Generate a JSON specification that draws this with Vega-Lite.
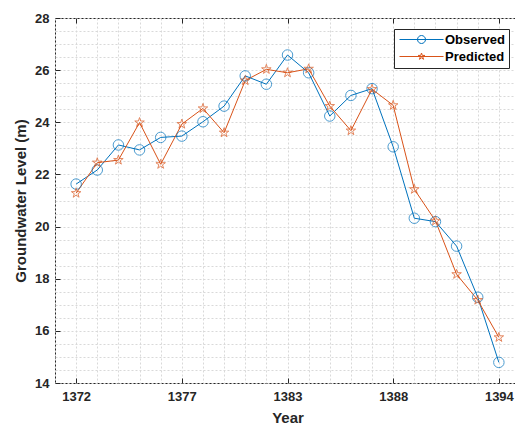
{
  "$schema": "https://vega.github.io/schema/vega-lite/v6.json",
  "width": 465,
  "height": 365,
  "autosize": {"type": "none"},
  "padding": {"left": 55, "top": 18, "right": 0, "bottom": 42},
  "background": "white",
  "config": {
    "view": {"stroke": "#262626", "strokeWidth": 1},
    "font": "Liberation Sans",
    "axis": {
      "labelFont": "Liberation Sans",
      "labelFontWeight": "bold",
      "labelFontSize": 13,
      "labelColor": "#262626",
      "titleFont": "Liberation Sans",
      "titleFontWeight": "bold",
      "titleFontSize": 15,
      "titleColor": "#262626",
      "tickColor": "#262626",
      "domain": false,
      "gridColor": "#d9d9d9",
      "gridDash": [2, 2],
      "gridWidth": 1
    }
  },
  "data": {
    "values": [
      {"Year": 1372, "Series": "Observed", "Level": 21.63},
      {"Year": 1373.1, "Series": "Observed", "Level": 22.17},
      {"Year": 1374.2, "Series": "Observed", "Level": 23.13},
      {"Year": 1375.3, "Series": "Observed", "Level": 22.94},
      {"Year": 1376.4, "Series": "Observed", "Level": 23.42},
      {"Year": 1377.5, "Series": "Observed", "Level": 23.47},
      {"Year": 1378.6, "Series": "Observed", "Level": 24.02},
      {"Year": 1379.7, "Series": "Observed", "Level": 24.62},
      {"Year": 1380.8, "Series": "Observed", "Level": 25.78},
      {"Year": 1381.9, "Series": "Observed", "Level": 25.46},
      {"Year": 1383, "Series": "Observed", "Level": 26.58},
      {"Year": 1384.1, "Series": "Observed", "Level": 25.9},
      {"Year": 1385.2, "Series": "Observed", "Level": 24.24},
      {"Year": 1386.3, "Series": "Observed", "Level": 25.03},
      {"Year": 1387.4, "Series": "Observed", "Level": 25.29},
      {"Year": 1388.5, "Series": "Observed", "Level": 23.06},
      {"Year": 1389.6, "Series": "Observed", "Level": 20.32},
      {"Year": 1390.7, "Series": "Observed", "Level": 20.19},
      {"Year": 1391.8, "Series": "Observed", "Level": 19.25},
      {"Year": 1392.9, "Series": "Observed", "Level": 17.29},
      {"Year": 1394, "Series": "Observed", "Level": 14.79},
      {"Year": 1372, "Series": "Predicted", "Level": 21.28},
      {"Year": 1373.1, "Series": "Predicted", "Level": 22.45},
      {"Year": 1374.2, "Series": "Predicted", "Level": 22.55},
      {"Year": 1375.3, "Series": "Predicted", "Level": 23.99},
      {"Year": 1376.4, "Series": "Predicted", "Level": 22.39},
      {"Year": 1377.5, "Series": "Predicted", "Level": 23.93},
      {"Year": 1378.6, "Series": "Predicted", "Level": 24.53},
      {"Year": 1379.7, "Series": "Predicted", "Level": 23.6},
      {"Year": 1380.8, "Series": "Predicted", "Level": 25.6},
      {"Year": 1381.9, "Series": "Predicted", "Level": 26.03},
      {"Year": 1383, "Series": "Predicted", "Level": 25.9},
      {"Year": 1384.1, "Series": "Predicted", "Level": 26.05},
      {"Year": 1385.2, "Series": "Predicted", "Level": 24.62},
      {"Year": 1386.3, "Series": "Predicted", "Level": 23.68},
      {"Year": 1387.4, "Series": "Predicted", "Level": 25.27},
      {"Year": 1388.5, "Series": "Predicted", "Level": 24.65},
      {"Year": 1389.6, "Series": "Predicted", "Level": 21.43},
      {"Year": 1390.7, "Series": "Predicted", "Level": 20.22},
      {"Year": 1391.8, "Series": "Predicted", "Level": 18.17},
      {"Year": 1392.9, "Series": "Predicted", "Level": 17.18},
      {"Year": 1394, "Series": "Predicted", "Level": 15.75}
    ]
  },
  "resolve": {"axis": {"x": "independent", "y": "independent"}},
  "layer": [
    {
      "mark": {"type": "line", "strokeWidth": 1},
      "encoding": {
        "x": {
          "field": "Year", "type": "quantitative",
          "scale": {"domain": [1370.9, 1395.1], "nice": false, "zero": false},
          "axis": {
            "orient": "bottom", "values": [1370.9, 1372, 1373.1, 1374.2, 1375.3, 1376.4, 1377.5, 1378.6, 1379.7, 1380.8, 1381.9, 1383, 1384.1, 1385.2, 1386.3, 1387.4, 1388.5, 1389.6, 1390.7, 1391.8, 1392.9, 1394],
            "grid": true, "ticks": false, "labels": false, "domain": false, "title": null
          }
        },
        "y": {
          "field": "Level", "type": "quantitative",
          "scale": {"domain": [14, 28], "nice": false, "zero": false},
          "axis": {
            "orient": "left", "values": [14, 14.5, 15, 15.5, 16, 16.5, 17, 17.5, 18, 18.5, 19, 19.5, 20, 20.5, 21, 21.5, 22, 22.5, 23, 23.5, 24, 24.5, 25, 25.5, 26, 26.5, 27, 27.5, 28],
            "grid": true, "ticks": false, "labels": false, "domain": false, "title": null
          }
        },
        "color": {
          "field": "Series", "type": "nominal",
          "scale": {"domain": ["Observed", "Predicted"], "range": ["#0072BD", "#D95319"]},
          "legend": {
            "title": null,
            "orient": "none",
            "legendX": 339,
            "legendY": 11,
            "padding": 4,
            "strokeColor": "#262626",
            "fillColor": "white",
            "symbolSize": 100,
            "symbolOffset": 17,
            "labelOffset": 17,
            "rowPadding": 3,
            "labelFont": "Liberation Sans",
            "labelFontWeight": "bold",
            "labelFontSize": 13,
            "labelColor": "#000000",
            "symbolStrokeWidth": 1,
            "encode": {
              "symbols": {
                "update": {
                  "shape": {"signal": "datum.value === 'Observed' ? 'M-4.4,0L4.4,0M-0.8,0A0.8,0.8,0,1,0,0.8,0A0.8,0.8,0,1,0,-0.8,0' : 'M-4.4,0L4.4,0M0,-0.7L0.158,-0.216L0.666,-0.216L0.254,0.083L0.412,0.566L0,0.267L-0.412,0.566L-0.254,0.083L-0.666,-0.216L-0.158,-0.216Z'"},
                  "fill": {"value": "transparent"},
                  "strokeWidth": {"value": 1}
                }
              }
            }
          }
        }
      }
    },
    {
      "transform": [{"filter": "datum.Series === 'Observed'"}],
      "mark": {"type": "point", "filled": false, "size": 110, "strokeWidth": 1, "shape": "circle"},
      "encoding": {
        "x": {
          "field": "Year", "type": "quantitative",
          "axis": {
            "orient": "bottom", "values": [1372, 1377.5, 1383, 1388.5, 1394],
            "labelExpr": "floor(datum.value)",
            "grid": false, "ticks": true, "tickSize": -5, "labelPadding": 12,
            "domain": false, "title": "Year", "titlePadding": 7
          }
        },
        "y": {
          "field": "Level", "type": "quantitative",
          "axis": {
            "orient": "left", "values": [14, 16, 18, 20, 22, 24, 26, 28],
            "grid": false, "ticks": true, "tickSize": -5, "labelPadding": 11,
            "domain": false, "title": "Groundwater Level (m)", "titlePadding": 6
          }
        },
        "color": {"field": "Series", "type": "nominal"}
      }
    },
    {
      "transform": [{"filter": "datum.Series === 'Predicted'"}],
      "mark": {"type": "point", "filled": false, "size": 100, "strokeWidth": 1, "shape": "M0,-1L0.225,-0.309L0.951,-0.309L0.363,0.118L0.588,0.809L0,0.382L-0.588,0.809L-0.363,0.118L-0.951,-0.309L-0.225,-0.309Z"},
      "encoding": {
        "x": {
          "field": "Year", "type": "quantitative",
          "axis": {
            "orient": "top", "values": [1372, 1377.5, 1383, 1388.5, 1394],
            "grid": false, "ticks": true, "tickSize": -5, "labels": false,
            "domain": false, "title": null
          }
        },
        "y": {
          "field": "Level", "type": "quantitative",
          "axis": {
            "orient": "right", "values": [14, 16, 18, 20, 22, 24, 26, 28],
            "grid": false, "ticks": true, "tickSize": -5, "labels": false,
            "domain": false, "title": null
          }
        },
        "color": {"field": "Series", "type": "nominal"}
      }
    }
  ]
}
